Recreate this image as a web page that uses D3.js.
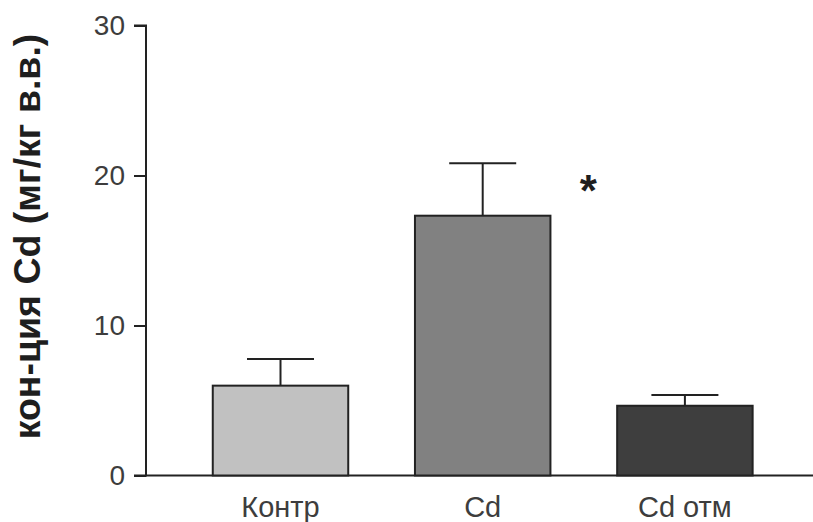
<!DOCTYPE html>
<html>
<head>
<meta charset="utf-8">
<script src="https://cdn.jsdelivr.net/npm/d3@7"></script>
<style>
  html, body { margin: 0; padding: 0; background: #fff; }
  svg { display: block; font-family: "Liberation Sans", Arial, sans-serif; }
</style>
</head>
<body>
<svg id="chart" width="813" height="522"></svg>
<script>
// Cd concentration by group (mean with upper error)
const groups = ["Контр", "Cd", "Cd отм"];
const means = [5.99, 17.32, 4.65];
const errors = [1.78, 3.49, 0.72];
const fills = ["#c1c1c1", "#818181", "#3e3e3e"];
const yTicks = [0, 10, 20, 30];
const significant = [false, true, false];
const yTitle = "кон-ция Cd (мг/кг в.в.)";

const svg = d3.select("#chart");

const y = d3.scaleLinear().domain([0, 30]).range([475.5, 25.5]);
const x = d3.scaleBand().domain(groups).range([179.4, 786]).paddingInner(0.33).paddingOuter(0.165);

const axisX0 = 146, axisX1 = 813;

// y axis
const yAxis = d3.axisLeft(y).tickValues(yTicks).tickSize(12).tickPadding(9).tickFormat(d3.format("d"));
const gy = svg.append("g").attr("transform", `translate(${axisX0},0)`).call(yAxis);
gy.select(".domain").attr("stroke", "#222").attr("stroke-width", 2).attr("d", `M-12,${y(30)}H0V${y(0)}H-12`);
gy.selectAll(".tick line").attr("stroke", "#222").attr("stroke-width", 2);
gy.selectAll(".tick text").attr("font-size", 28).attr("fill", "#3d3d3d")
  .attr("font-family", "Liberation Sans, Arial, sans-serif");

// x axis baseline
svg.append("line")
  .attr("x1", axisX0).attr("x2", axisX1)
  .attr("y1", y(0)).attr("y2", y(0))
  .attr("stroke", "#222").attr("stroke-width", 2);

// x category labels
svg.append("g").selectAll("text").data(groups).join("text")
  .attr("x", d => x(d) + x.bandwidth() / 2)
  .attr("y", 516.5)
  .attr("text-anchor", "middle")
  .attr("font-size", 29)
  .attr("fill", "#3d3d3d")
  .text(d => d);

// error bars (upper only)
const eb = svg.append("g").selectAll("g").data(groups).join("g");
eb.append("line")
  .attr("x1", d => x(d) + x.bandwidth() / 2)
  .attr("x2", d => x(d) + x.bandwidth() / 2)
  .attr("y1", (d, i) => y(means[i]))
  .attr("y2", (d, i) => y(means[i] + errors[i]))
  .attr("stroke", "#222").attr("stroke-width", 2);
eb.append("line")
  .attr("x1", d => x(d) + x.bandwidth() / 2 - 33.5)
  .attr("x2", d => x(d) + x.bandwidth() / 2 + 33.5)
  .attr("y1", (d, i) => y(means[i] + errors[i]))
  .attr("y2", (d, i) => y(means[i] + errors[i]))
  .attr("stroke", "#222").attr("stroke-width", 2);

// bars
svg.append("g").selectAll("rect").data(groups).join("rect")
  .attr("x", d => x(d))
  .attr("y", (d, i) => y(means[i]))
  .attr("width", x.bandwidth())
  .attr("height", (d, i) => y(0) - y(means[i]))
  .attr("fill", (d, i) => fills[i])
  .attr("stroke", "#222").attr("stroke-width", 2);

// significance marks
svg.append("g").selectAll("text").data(groups.filter((d, i) => significant[i])).join("text")
  .attr("x", d => x(d) + x.bandwidth() + 38)
  .attr("y", d => y(means[groups.indexOf(d)] + errors[groups.indexOf(d)]) + 43)
  .attr("text-anchor", "middle")
  .attr("font-size", 44)
  .attr("font-weight", "bold")
  .attr("fill", "#1e1e1e")
  .text("*");

// y axis title
svg.append("text")
  .attr("transform", "translate(40,236.5) rotate(-90)")
  .attr("text-anchor", "middle")
  .attr("font-size", 37.5)
  .attr("font-weight", "bold")
  .attr("fill", "#1e1e1e")
  .text(yTitle);
</script>
</body>
</html>
